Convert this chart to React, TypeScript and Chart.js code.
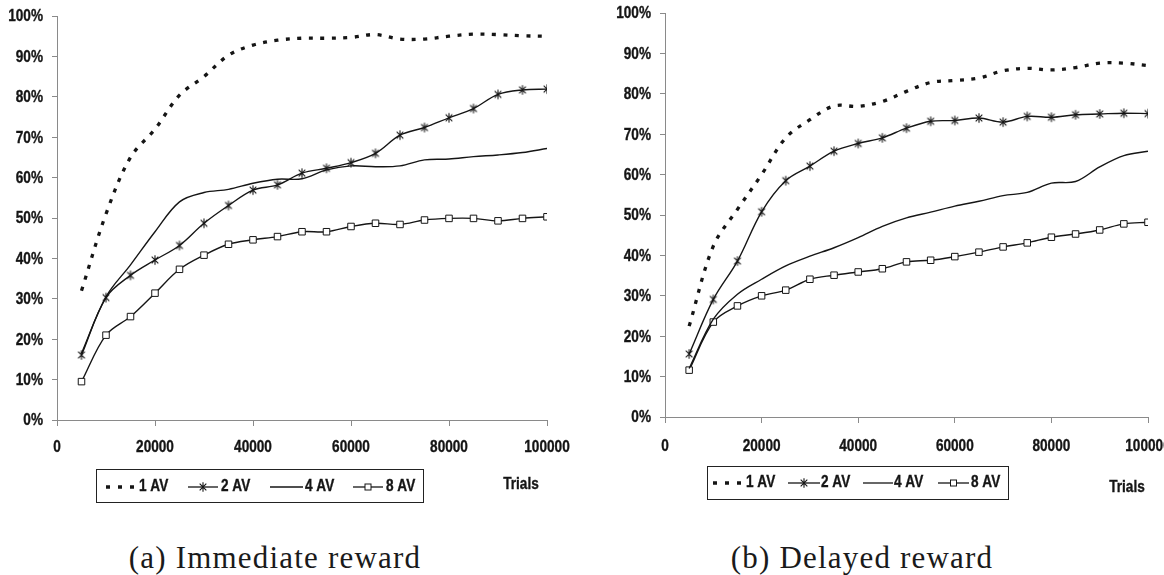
import React, { useEffect, useRef } from "react";
import { Chart, registerables } from "chart.js";

Chart.register(...registerables);

// Number of training trials at which each success rate was recorded
const trials = [
  5000, 10000, 15000, 20000, 25000, 30000, 35000, 40000, 45000, 50000,
  55000, 60000, 65000, 70000, 75000, 80000, 85000, 90000, 95000, 100000,
];

// Success rate (%) – immediate reward
const immediate1AV = [32, 51, 65, 72, 80.4, 85, 90.3, 92.8, 94, 94.5, 94.5, 94.7, 95.4, 94.3, 94.3, 95, 95.5, 95.4, 95.1, 95];
const immediate2AV = [16.1, 30.3, 35.8, 39.6, 43.2, 48.7, 53.1, 56.9, 58.2, 61.1, 62.3, 63.7, 66.0, 70.5, 72.4, 74.8, 77.1, 80.6, 81.7, 81.9];
const immediate4AV = [16.5, 30.5, 38.4, 46.6, 54, 56.3, 57.1, 58.6, 59.6, 59.7, 61.9, 62.9, 62.7, 62.9, 64.4, 64.6, 65.2, 65.6, 66.2, 67.2];
const immediate8AV = [9.5, 21.0, 25.6, 31.4, 37.3, 40.8, 43.5, 44.6, 45.4, 46.6, 46.6, 47.9, 48.7, 48.4, 49.5, 49.9, 49.9, 49.3, 49.9, 50.3];

// Success rate (%) – delayed reward
const delayed1AV = [22.5, 42.3, 51.4, 60.0, 69.1, 73.6, 77.0, 76.9, 78.1, 80.6, 82.8, 83.3, 83.9, 85.7, 86.3, 85.9, 86.5, 87.6, 87.6, 87.0];
const delayed2AV = [15.6, 29.1, 38.6, 50.8, 58.5, 62.1, 65.8, 67.7, 69.1, 71.5, 73.2, 73.4, 74.0, 73.0, 74.4, 74.2, 74.8, 75.0, 75.2, 75.1];
const delayed4AV = [12, 24.2, 30.4, 34.1, 37.4, 39.8, 41.9, 44.4, 47.2, 49.3, 50.7, 52.2, 53.4, 54.8, 55.6, 57.9, 58.3, 61.9, 64.7, 65.8];
const delayed8AV = [11.6, 23.5, 27.5, 30.0, 31.4, 34.1, 35.1, 35.9, 36.7, 38.4, 38.8, 39.7, 40.8, 42.1, 43.1, 44.5, 45.3, 46.3, 47.8, 48.2];

const seriesLabels = ["1 AV", "2 AV", "4 AV", "8 AV"];
const xAxisTitle = "Trials";
const yMax = 100;
const yStep = 10;
const xMax = 100000;
const xStep = 20000;

const INK = "#151515";
const AXIS = "#8a8a8a";
const SANS = '"Liberation Sans", Arial, sans-serif';
const SERIF = '"Liberation Serif", "Times New Roman", serif';
const LABEL_FONT = `bold 16px ${SANS}`;
const CONDENSE = 0.85; // horizontal squeeze for a narrow bold face

function makeAsterisk(r: number): HTMLCanvasElement {
  const s = Math.ceil(r * 2 + 2);
  const c = document.createElement("canvas");
  c.width = s;
  c.height = s;
  const ctx = c.getContext("2d")!;
  ctx.strokeStyle = INK;
  ctx.lineWidth = 1.1;
  const m = s / 2;
  const d = r * Math.SQRT1_2;
  ctx.beginPath();
  ctx.moveTo(m, m - r);
  ctx.lineTo(m, m + r);
  ctx.moveTo(m - d, m - d);
  ctx.lineTo(m + d, m + d);
  ctx.moveTo(m - d, m + d);
  ctx.lineTo(m + d, m - d);
  ctx.stroke();
  return c;
}

function narrowText(
  ctx: CanvasRenderingContext2D,
  text: string,
  x: number,
  y: number,
  align: CanvasTextAlign
) {
  ctx.save();
  ctx.translate(x, y);
  ctx.scale(CONDENSE, 1);
  ctx.font = LABEL_FONT;
  ctx.fillStyle = INK;
  ctx.strokeStyle = INK;
  ctx.lineWidth = 0.35;
  ctx.textAlign = align;
  ctx.textBaseline = "middle";
  ctx.fillText(text, 0, 0);
  ctx.strokeText(text, 0, 0);
  ctx.restore();
}

type PanelLayout = {
  left: number;
  width: number;
  height: number;
  axisWidth: number;
  axisHeight: number;
  padTop: number;
  padRight: number;
  yLabelRight: number;
  xLabelY: number;
  legendBox: [number, number, number, number];
  samples: [number, number, number][]; // [line start, line end, text x]
  legendTextY: number;
  trialsPos: [number, number];
  caption: string;
  captionCenter: number;
};

const panelA: PanelLayout = {
  left: 0,
  width: 580,
  height: 510,
  axisWidth: 57,
  axisHeight: 90,
  padTop: 16,
  padRight: 33,
  yLabelRight: 43,
  xLabelY: 448,
  legendBox: [96, 469, 327, 33],
  samples: [
    [106, 134, 139],
    [188, 218, 221],
    [270, 303, 305],
    [353, 383, 386],
  ],
  legendTextY: 487,
  trialsPos: [521, 485],
  caption: "(a) Immediate reward",
  captionCenter: 275,
};

const panelB: PanelLayout = {
  left: 580,
  width: 584,
  height: 510,
  axisWidth: 85,
  axisHeight: 93,
  padTop: 13,
  padRight: 16,
  yLabelRight: 71,
  xLabelY: 447,
  legendBox: [127, 466, 301, 33],
  samples: [
    [133, 161, 166],
    [208, 240, 241],
    [283, 313, 314],
    [358, 389, 391],
  ],
  legendTextY: 483,
  trialsPos: [547, 488],
  caption: "(b) Delayed reward",
  captionCenter: 862,
};

// Tick labels, framed legend and the axis caption
const decorPlugin = {
  id: "avDecor",
  afterDraw(chart: any, _args: any, opts: any) {
    const L: PanelLayout = opts.layout;
    if (!L) return;
    const ctx = chart.ctx as CanvasRenderingContext2D;
    const star: HTMLCanvasElement = opts.star;
    const xs = chart.scales.x;
    const ys = chart.scales.y;

    xs.ticks.forEach((t: any) => {
      narrowText(ctx, String(t.value), xs.getPixelForValue(t.value), L.xLabelY, "center");
    });
    ys.ticks.forEach((t: any) => {
      narrowText(ctx, `${t.value}%`, L.yLabelRight, ys.getPixelForValue(t.value) + 1, "right");
    });

    ctx.save();
    ctx.strokeStyle = "#222";
    ctx.lineWidth = 1;
    const [bx, by, bw, bh] = L.legendBox;
    ctx.strokeRect(bx + 0.5, by + 0.5, bw, bh);
    const y = L.legendTextY;
    L.samples.forEach(([x0, x1, tx], i) => {
      ctx.strokeStyle = INK;
      if (i === 0) {
        ctx.lineWidth = 3.4;
        ctx.setLineDash([4, 8]);
      } else {
        ctx.lineWidth = 1.3;
        ctx.setLineDash([]);
      }
      ctx.beginPath();
      ctx.moveTo(x0, y);
      ctx.lineTo(x1, y);
      ctx.stroke();
      ctx.setLineDash([]);
      const mx = (x0 + x1) / 2;
      if (i === 1) {
        ctx.drawImage(star, mx - star.width / 2, y - star.height / 2);
      } else if (i === 3) {
        ctx.fillStyle = "#fff";
        ctx.lineWidth = 1;
        ctx.fillRect(mx - 3, y - 3, 6, 6);
        ctx.strokeRect(mx - 3, y - 3, 6, 6);
      }
      narrowText(ctx, seriesLabels[i], tx, y, "left");
    });
    narrowText(ctx, xAxisTitle, L.trialsPos[0], L.trialsPos[1], "center");
    ctx.restore();
  },
};

function Panel({ layout, data }: { layout: PanelLayout; data: number[][] }) {
  const ref = useRef<HTMLCanvasElement | null>(null);

  useEffect(() => {
    if (!ref.current) return;
    const star = makeAsterisk(4.7);
    const toPoints = (vals: number[]) => vals.map((v, i) => ({ x: trials[i], y: v }));
    const base = {
      borderColor: INK,
      borderWidth: 1.4,
      tension: 0.35,
      fill: false,
      pointHoverRadius: 0,
    };
    const chart = new Chart(ref.current, {
      type: "line",
      data: {
        datasets: [
          {
            ...base,
            label: seriesLabels[0],
            data: toPoints(data[0]),
            borderWidth: 3.3,
            borderDash: [4, 7.5],
            borderCapStyle: "butt",
            pointRadius: 0,
          },
          {
            ...base,
            label: seriesLabels[2],
            data: toPoints(data[2]),
            pointRadius: 0,
          },
          {
            ...base,
            label: seriesLabels[1],
            data: toPoints(data[1]),
            pointStyle: star,
            pointRadius: 4.7,
          },
          {
            ...base,
            label: seriesLabels[3],
            data: toPoints(data[3]),
            pointStyle: "rect",
            pointRadius: 4.6,
            pointBackgroundColor: "#fff",
            pointBorderColor: INK,
            pointBorderWidth: 1,
          },
        ],
      } as any,
      options: {
        animation: false,
        responsive: false,
        maintainAspectRatio: false,
        events: [],
        layout: {
          padding: { top: layout.padTop, right: layout.padRight, left: 0, bottom: 0 },
        },
        plugins: {
          legend: { display: false },
          tooltip: { enabled: false },
          title: { display: false },
          avDecor: { layout, star },
        } as any,
        scales: {
          x: {
            type: "linear",
            min: 0,
            max: xMax,
            border: { display: true, color: AXIS, width: 1 },
            grid: {
              display: true,
              drawOnChartArea: false,
              drawTicks: true,
              tickLength: 6,
              color: AXIS,
            },
            ticks: { stepSize: xStep, display: false, autoSkip: false },
            afterFit: (scale: any) => {
              scale.height = layout.axisHeight;
            },
          },
          y: {
            type: "linear",
            min: 0,
            max: yMax,
            border: { display: true, color: AXIS, width: 1 },
            grid: {
              display: true,
              drawOnChartArea: false,
              drawTicks: true,
              tickLength: 5,
              color: AXIS,
            },
            ticks: { stepSize: yStep, display: false },
            afterFit: (scale: any) => {
              scale.width = layout.axisWidth;
            },
          },
        },
      } as any,
      plugins: [decorPlugin],
    });
    return () => chart.destroy();
  }, [layout, data]);

  return (
    <>
      <canvas
        ref={ref}
        width={layout.width}
        height={layout.height}
        style={{
          position: "absolute",
          left: layout.left,
          top: 0,
          width: layout.width,
          height: layout.height,
        }}
      />
      <div
        style={{
          position: "absolute",
          left: layout.captionCenter - 250,
          width: 500,
          top: 542,
          textAlign: "center",
          fontFamily: SERIF,
          fontSize: 31,
          lineHeight: "31px",
          letterSpacing: "1.2px",
          color: "#1a1a1a",
          whiteSpace: "nowrap",
        }}
      >
        {layout.caption}
      </div>
    </>
  );
}

const immediateData = [immediate1AV, immediate2AV, immediate4AV, immediate8AV];
const delayedData = [delayed1AV, delayed2AV, delayed4AV, delayed8AV];

export default function App() {
  return (
    <div
      style={{
        position: "absolute",
        left: 0,
        top: 0,
        width: 1164,
        height: 575,
        background: "#fff",
        overflow: "hidden",
      }}
    >
      <Panel layout={panelA} data={immediateData} />
      <Panel layout={panelB} data={delayedData} />
    </div>
  );
}
